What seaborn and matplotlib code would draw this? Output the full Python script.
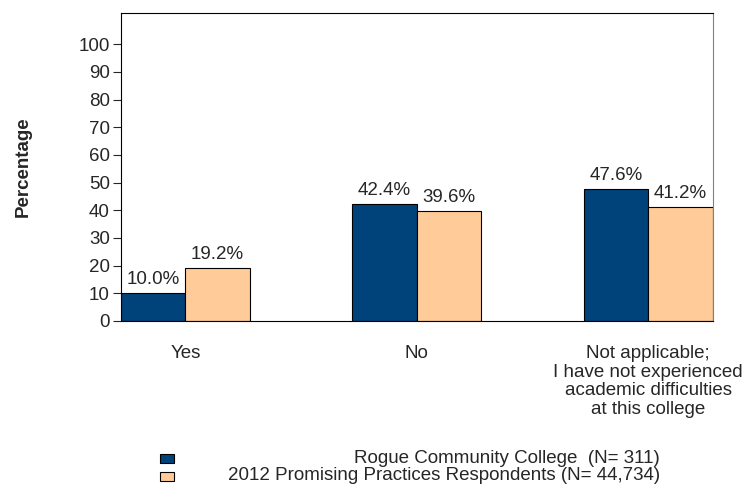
import pandas as pd
import seaborn as sns
import matplotlib.pyplot as plt
from matplotlib.patches import Patch

# Data
categories = ['Yes', 'No',
              'Not applicable;\nI have not experienced\nacademic difficulties\nat this college']
groups = ['Rogue Community College  (N= 311)',
          '2012 Promising Practices Respondents (N= 44,734)']
college = [10.0, 42.4, 47.6]
promising = [19.2, 39.6, 41.2]
colors = ['#00427A', '#FFCC99']

df = pd.DataFrame({
    'Response': categories * 2,
    'Percentage': college + promising,
    'Group': [groups[0]] * 3 + [groups[1]] * 3
})

sns.set_style('white')
plt.rcParams['font.family'] = ['Liberation Sans', 'DejaVu Sans']
fs = 13.5

fig = plt.figure(figsize=(7.47, 4.87), dpi=100)
ax = fig.add_axes([0.162, 0.341, 0.792, 0.633])

sns.barplot(
    data=df,
    x='Response',
    y='Percentage',
    hue='Group',
    palette=colors,
    saturation=1,
    width=0.557,
    edgecolor='black',
    linewidth=0.8,
    legend=False,
    ax=ax
)

for cont in ax.containers:
    ax.bar_label(cont, fmt='%.1f%%', padding=3.5, fontsize=fs)

ax.set_xlim(-0.2785, 2.2785)
ax.set_ylim(0, 111.4)
ax.set_yticks(range(0, 101, 10))
ax.tick_params(axis='y', left=True, length=6, width=0.8, pad=2, labelsize=fs)
ax.tick_params(axis='x', bottom=False, pad=14, labelsize=fs)
for lab in ax.get_xticklabels():
    lab.set_linespacing(1.12)
ax.set_xlabel('')
ax.set_ylabel('Percentage', fontsize=fs, fontweight='bold')
ax.yaxis.set_label_coords(-0.151, 0.5)

for side in ['left', 'bottom', 'top']:
    ax.spines[side].set_color('black')
    ax.spines[side].set_linewidth(0.8)
ax.spines['right'].set_color('#808080')
ax.spines['right'].set_linewidth(0.8)

# legend keys, labels right aligned as in the original
handles = [Patch(facecolor=c, edgecolor='black', linewidth=0.8) for c in colors]
fig.legend(handles, ['', ''], loc='upper left', bbox_to_anchor=(0.205, 0.086),
           frameon=False, handlelength=1.0, handleheight=0.6,
           labelspacing=0.3, handletextpad=0, borderpad=0)
fig.text(0.8835, 0.0595, groups[0], ha='right', va='center', fontsize=fs)
fig.text(0.8835, 0.0226, groups[1], ha='right', va='center', fontsize=fs)

plt.savefig('out.png', dpi=100)
